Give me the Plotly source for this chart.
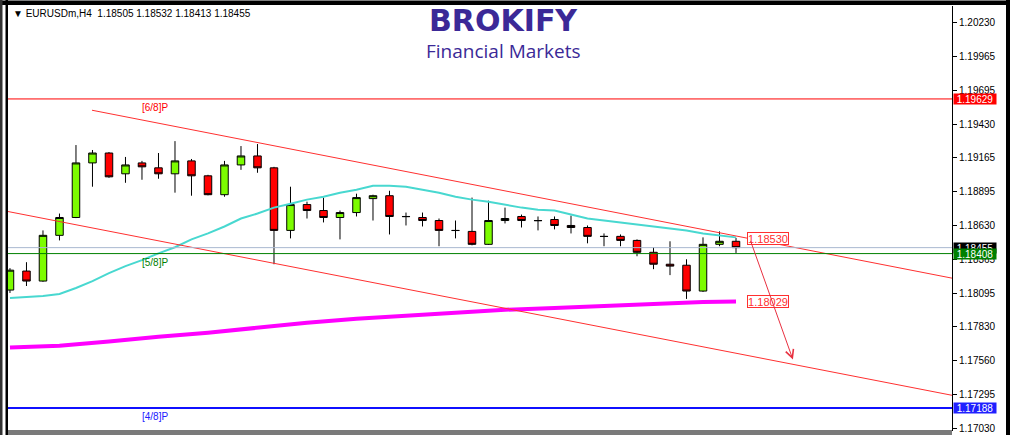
import plotly.graph_objects as go

# ---------------- data ----------------
bar_index = list(range(45))
opens = [1.18120, 1.18270, 1.18191, 1.18552, 1.18693, 1.19124, 1.19202, 1.19038, 1.19124, 1.19085,
         1.19038, 1.19140, 1.19022, 1.18873, 1.19108, 1.19179, 1.19085, 1.18591, 1.18795, 1.18748,
         1.18693, 1.18732, 1.18842, 1.18865, 1.18701, 1.18693, 1.18669, 1.18591, 1.18583, 1.18481,
         1.18669, 1.18701, 1.18669, 1.18677, 1.18630, 1.18614, 1.18544, 1.18544, 1.18512, 1.18418,
         1.18324, 1.18316, 1.18112, 1.18481, 1.18505]
highs = [1.18293, 1.18340, 1.18591, 1.18724, 1.19265, 1.19226, 1.19210, 1.19171, 1.19140, 1.19202,
         1.19296, 1.19155, 1.19030, 1.19140, 1.19257, 1.19273, 1.19093, 1.18936, 1.18818, 1.18850,
         1.18748, 1.18881, 1.18873, 1.18904, 1.18732, 1.18732, 1.18685, 1.18669, 1.18850, 1.18826,
         1.18771, 1.18716, 1.18701, 1.18701, 1.18708, 1.18630, 1.18567, 1.18559, 1.18520, 1.18458,
         1.18505, 1.18363, 1.18536, 1.18583, 1.18532]
lows = [1.18097, 1.18152, 1.18185, 1.18512, 1.18688, 1.18936, 1.19006, 1.18967, 1.18991, 1.18999,
        1.18889, 1.18865, 1.18868, 1.18857, 1.19069, 1.19046, 1.18324, 1.18528, 1.18685, 1.18654,
        1.18520, 1.18701, 1.18669, 1.18559, 1.18630, 1.18622, 1.18466, 1.18528, 1.18473, 1.18476,
        1.18646, 1.18614, 1.18591, 1.18599, 1.18567, 1.18489, 1.18466, 1.18466, 1.18387, 1.18285,
        1.18238, 1.18050, 1.18105, 1.18466, 1.18413]
closes = [1.18277, 1.18191, 1.18552, 1.18693, 1.19124, 1.19202, 1.19014, 1.19108, 1.19093, 1.19038,
          1.19140, 1.19022, 1.18873, 1.19108, 1.19179, 1.19085, 1.18591, 1.18795, 1.18748, 1.18693,
          1.18732, 1.18850, 1.18865, 1.18701, 1.18700, 1.18669, 1.18591, 1.18590, 1.18481, 1.18669,
          1.18685, 1.18669, 1.18668, 1.18630, 1.18614, 1.18544, 1.18543, 1.18512, 1.18418, 1.18324,
          1.18309, 1.18112, 1.18481, 1.18505, 1.18455]

ma_fast = [1.18058, 1.18066, 1.18074, 1.18089, 1.18136, 1.18191, 1.18254, 1.18309, 1.18356, 1.18410,
           1.18458, 1.18520, 1.18567, 1.18622, 1.18685, 1.18724, 1.18771, 1.18802, 1.18834, 1.18857,
           1.18889, 1.18912, 1.18944, 1.18944, 1.18936, 1.18912, 1.18889, 1.18857, 1.18834, 1.18818,
           1.18795, 1.18771, 1.18755, 1.18748, 1.18716, 1.18685, 1.18669, 1.18654, 1.18638, 1.18622,
           1.18606, 1.18591, 1.18567, 1.18552, 1.18536]

ma_slow_idx = [0, 3, 6, 9, 12, 15, 18, 21, 24, 27, 30, 33, 36, 39, 42, 44]
ma_slow = [1.17666, 1.17681, 1.17713, 1.17752, 1.17783, 1.17822, 1.17862, 1.17893, 1.17917,
           1.17940, 1.17964, 1.17979, 1.17995, 1.18011, 1.18026, 1.18029]

chan_upper_x = [4.97, 57.09]
chan_upper_y = [1.19540, 1.18214]
chan_lower_x = [-0.12, 57.09]
chan_lower_y = [1.18740, 1.17289]

level_68 = 1.19629
level_58 = 1.18408
level_48 = 1.17188
bid_price = 1.18455
upper_mark = 1.18530
slow_mark = 1.18029

arrow_from = (44.85, 1.18520)
arrow_to = (47.45, 1.17571)

tick_vals = [1.17030, 1.17295, 1.17560, 1.17830, 1.18095, 1.18365, 1.18630,
             1.18895, 1.19165, 1.19430, 1.19695, 1.19965, 1.20230]
tick_text = ["%.5f" % v for v in tick_vals]

header = "\u25BC EURUSDm,H4  1.18505 1.18532 1.18413 1.18455"

# ---------------- geometry helpers (for frame/decoration only) ----------------
W, H = 1012, 438
PL, PR, PT, PB = 8, 952, 6, 434


def px_x(px):
    return (px - PL) / (PR - PL)


def px_y(py):
    return (PB - py) / (PB - PT)


FONT = "Liberation Sans, Arial, sans-serif"

fig = go.Figure()

fig.add_trace(go.Candlestick(
    x=bar_index, open=opens, high=highs, low=lows, close=closes,
    increasing=dict(fillcolor="#7cfc00", line=dict(color="#000000", width=1)),
    decreasing=dict(fillcolor="#ff0000", line=dict(color="#000000", width=1)),
    whiskerwidth=0, hoverinfo="skip",
))

fig.add_trace(go.Scatter(x=bar_index, y=ma_fast, mode="lines",
                         line=dict(color="#48d8d0", width=2), hoverinfo="skip"))
fig.add_trace(go.Scatter(x=ma_slow_idx, y=ma_slow, mode="lines",
                         line=dict(color="#ff00ff", width=4), hoverinfo="skip"))
fig.add_trace(go.Scatter(x=chan_upper_x, y=chan_upper_y, mode="lines",
                         line=dict(color="#ff3030", width=1), hoverinfo="skip"))
fig.add_trace(go.Scatter(x=chan_lower_x, y=chan_lower_y, mode="lines",
                         line=dict(color="#ff3030", width=1), hoverinfo="skip"))

# horizontal levels
for val, col, wdt in [(level_68, "#ff0000", 1), (bid_price, "#aab8d0", 1),
                      (level_58, "#008000", 1), (level_48, "#1010ff", 2)]:
    fig.add_shape(type="line", xref="paper", yref="y", x0=0, x1=1, y0=val, y1=val,
                  line=dict(color=col, width=wdt), layer="above")

annotations = []
# level labels
for val, txt, col in [(level_68, "[6/8]P", "#ff0000"), (level_58, "[5/8]P", "#008000"),
                      (level_48, "[4/8]P", "#2020ff")]:
    annotations.append(dict(x=8.8, y=val, xref="x", yref="y", text=txt, showarrow=False,
                            xanchor="center", yanchor="top", yshift=-1,
                            font=dict(family=FONT, size=10, color=col)))

# right-axis price boxes
for val, bg in [(level_68, "#ff0000"), (bid_price, "#000000"), (level_58, "#008000"),
                (level_48, "#2020ff")]:
    annotations.append(dict(x=1, y=val, xref="paper", yref="y", text="%.5f" % val,
                            showarrow=False, xanchor="left", yanchor="middle", xshift=1,
                            bgcolor=bg, width=42, height=10, borderpad=0,
                            font=dict(family=FONT, size=10, color="white")))

# marker price boxes
for val in [upper_mark, slow_mark]:
    annotations.append(dict(x=44.67, y=val, xref="x", yref="y", text="%.5f" % val,
                            showarrow=False, xanchor="left", yanchor="middle",
                            bgcolor="white", bordercolor="#ff3030", borderwidth=1,
                            borderpad=0, width=40, height=11,
                            font=dict(family=FONT, size=11, color="#ff3030")))

# arrow
annotations.append(dict(x=arrow_to[0], y=arrow_to[1], ax=arrow_from[0], ay=arrow_from[1],
                        xref="x", yref="y", axref="x", ayref="y", text="", showarrow=True,
                        arrowhead=5, arrowsize=1.6, arrowwidth=1, arrowcolor="#e83040"))

# header
annotations.append(dict(x=px_x(11), y=px_y(14), xref="paper", yref="paper", text=header,
                        showarrow=False, xanchor="left", yanchor="middle",
                        font=dict(family=FONT, size=10, color="black")))

# logo
annotations.append(dict(x=px_x(503), y=px_y(21), xref="paper", yref="paper", text="BROKIFY",
                        showarrow=False, xanchor="center", yanchor="middle",
                        font=dict(family="DejaVu Sans", size=30, color="#3b2997", weight=700)))
annotations.append(dict(x=px_x(503), y=px_y(51), xref="paper", yref="paper",
                        text="Financial Markets", showarrow=False, xanchor="center",
                        yanchor="middle",
                        font=dict(family="Open Sans", size=19, color="#3b2997")))

# frame decoration
frame = [
    dict(type="rect", xref="paper", yref="paper", x0=px_x(0), x1=px_x(1010),
         y0=px_y(5), y1=px_y(0.5), fillcolor="black", line=dict(width=0), layer="above"),
    dict(type="rect", xref="paper", yref="paper", x0=px_x(0), x1=px_x(2.5),
         y0=px_y(438), y1=px_y(0), fillcolor="#333333", line=dict(width=0), layer="above"),
    dict(type="rect", xref="paper", yref="paper", x0=px_x(5.5), x1=px_x(8),
         y0=px_y(438), y1=px_y(0), fillcolor="black", line=dict(width=0), layer="above"),
    dict(type="rect", xref="paper", yref="paper", x0=px_x(1006), x1=px_x(1010),
         y0=px_y(438), y1=px_y(0), fillcolor="black", line=dict(width=0), layer="above"),
    dict(type="rect", xref="paper", yref="paper", x0=px_x(8), x1=px_x(952),
         y0=px_y(438), y1=px_y(433), fillcolor="#7a7a7a", line=dict(width=0), layer="above"),
]
for s in frame:
    fig.add_shape(**s)

fig.update_layout(
    width=W, height=H,
    margin=dict(l=PL, r=W - PR, t=PT, b=H - PB, pad=0),
    paper_bgcolor="white", plot_bgcolor="white",
    showlegend=False, boxgap=0.35,
    annotations=annotations,
    xaxis=dict(range=[-0.12, 57.09], visible=False, rangeslider=dict(visible=False),
               fixedrange=True),
    yaxis=dict(side="right", range=[1.17007, 1.20363], tickvals=tick_vals,
               ticktext=tick_text, ticks="outside", ticklen=4, tickcolor="black",
               showgrid=False, zeroline=False, showline=True, linecolor="black",
               linewidth=1, fixedrange=True,
               tickfont=dict(family=FONT, size=10, color="black")),
)

fig.write_html("out.html", config={"displayModeBar": False},
               post_script="document.body.style.margin='0';document.body.style.overflow='hidden';")
